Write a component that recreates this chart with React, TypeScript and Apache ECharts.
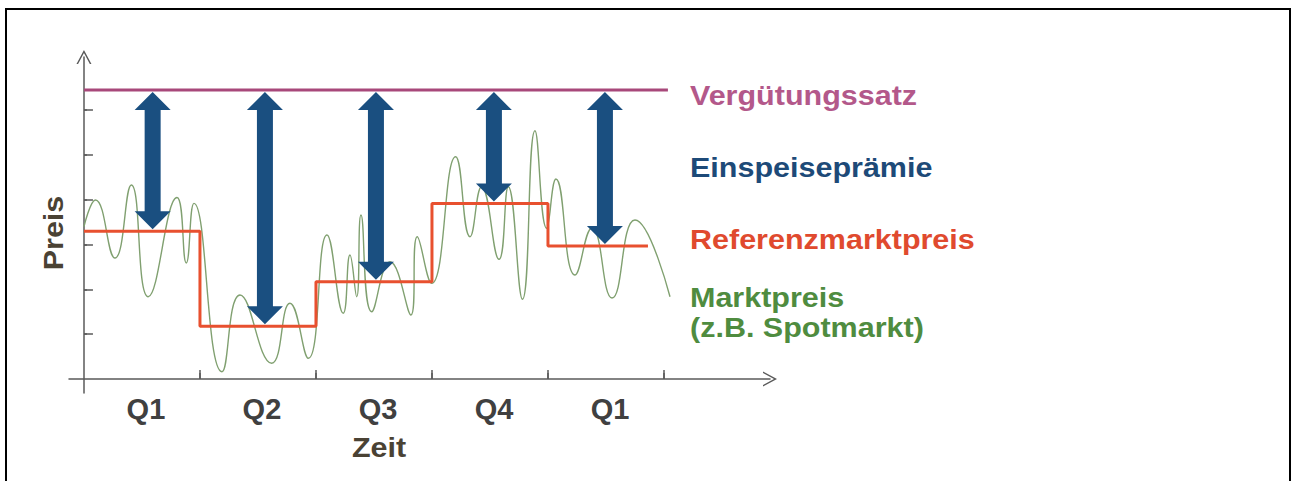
import React, { useEffect, useRef } from "react";
import * as echarts from "echarts";

// ---- data (x in quarters from the start, y in price units) ----
const quarterLabels = ["Q1", "Q2", "Q3", "Q4", "Q1"];
const quarterLabelPos = [0.5, 1.5, 2.5, 3.5, 4.5];
const xTickValues = [1, 2, 3, 4, 5];
const yTickValues = [1, 2, 3, 4, 5, 6];

const feedInRateX = [0, 5.034];
const feedInRate = 6.45;

const refStartX = [0, 1, 2, 3, 4];
const refPrices = [3.3, 1.18, 2.17, 3.92, 2.97];
const refEndX = 4.862;

const marketX = [
  0, 0.099, 0.267, 0.408, 0.554, 0.802, 0.882, 0.948, 1.19, 1.345, 1.618, 1.776,
  1.934, 2.095, 2.235, 2.293, 2.351, 2.388, 2.48, 2.638, 2.819, 2.873, 2.997, 3.204,
  3.328, 3.428, 3.578, 3.658, 3.78, 3.888, 3.989, 4.069, 4.233, 4.379, 4.552, 4.75, 5.052,
];
const marketY = [
  3.4, 3.996, 2.7, 4.33, 1.837, 4.05, 2.59, 3.92, 0.163, 1.875, 0.35, 1.69,
  0.462, 3.214, 1.467, 2.768, 1.837, 3.661, 1.502, 2.618, 1.429, 3.176, 2.136, 4.962,
  3.176, 4.292, 2.672, 4.292, 1.78, 5.542, 3.364, 4.464, 2.321, 3.371, 1.808, 3.549, 1.837,
];

const arrowX = [0.592, 1.56, 2.517, 3.534, 4.491];

const seriesNames = {
  rate: "Vergütungssatz",
  premium: "Einspeiseprämie",
  ref: "Referenzmarktpreis",
  market: "Marktpreis",
  marketNote: "(z.B. Spotmarkt)",
};
const axisNames = { x: "Zeit", y: "Preis" };

const COLORS = {
  rate: "#a8487a",
  rateText: "#b3588a",
  premium: "#1a4f80",
  premiumText: "#1d4a78",
  ref: "#e8502f",
  refText: "#e04a2e",
  market: "#80a070",
  marketText: "#4f8c3f",
  axis: "#5a5a5a",
  label: "#404040",
  name: "#4a4234",
};

const FONT = "'Liberation Sans', Arial, sans-serif";
const chevron = "path://M0,14 L7.5,0 L15,14 L13.4,14 L7.5,3 L1.6,14 Z";

export default function App() {
  const ref = useRef<HTMLDivElement>(null);

  useEffect(() => {
    if (!ref.current) return;
    const chart = echarts.init(ref.current, undefined, { renderer: "svg" });

    const refData: number[][] = refStartX.map((x, i) => [x, refPrices[i]]);
    refData.push([refEndX, refPrices[refPrices.length - 1]]);

    const arrowData = arrowX.map((x, i) => [x, feedInRate, refPrices[i]]);

    const textBase = {
      fontFamily: FONT,
      fontWeight: "bold",
      fontSize: 28,
    };

    const legendText = (text: string, y: number, fill: string) => ({
      type: "text",
      x: 690,
      y,
      scaleX: 1.09,
      style: { ...textBase, text, fill, align: "left", verticalAlign: "middle" },
      z: 10,
    });

    const option: any = {
      animation: false,
      backgroundColor: "#ffffff",
      grid: { left: 69, right: 522, top: 57, bottom: 88, containLabel: false },
      xAxis: [
        {
          type: "value",
          min: -0.129,
          max: 5.914,
          axisLine: {
            show: true,
            onZero: true,
            onZeroAxisIndex: 0,
            symbol: ["none", chevron],
            symbolSize: [15, 14],
            lineStyle: { color: COLORS.axis, width: 1.5 },
          },
          axisTick: {
            show: true,
            inside: true,
            length: 9,
            customValues: xTickValues,
            lineStyle: { color: COLORS.axis, width: 1.5 },
          },
          axisLabel: {
            show: true,
            customValues: quarterLabelPos,
            formatter: (v: number) => quarterLabels[Math.floor(v)] ?? "",
            margin: 1,
            padding: [0, 0, 0, 8],
            color: COLORS.label,
            fontFamily: FONT,
            fontWeight: "bold",
            fontSize: 29,
          },
          splitLine: { show: false },
        },
        {
          type: "value",
          min: -0.129,
          max: 5.914,
          axisLine: { show: false, onZero: true, onZeroAxisIndex: 0 },
          axisTick: {
            show: true,
            inside: false,
            length: 6,
            customValues: xTickValues,
            lineStyle: { color: COLORS.axis, width: 1.5 },
          },
          axisLabel: { show: false },
          splitLine: { show: false },
        },
      ],
      yAxis: [
        {
          type: "value",
          min: -0.3125,
          max: 7.188,
          axisLine: {
            show: true,
            onZero: true,
            onZeroAxisIndex: 0,
            symbol: ["none", chevron],
            symbolSize: [15, 14],
            lineStyle: { color: COLORS.axis, width: 1.5 },
          },
          axisTick: {
            show: true,
            inside: true,
            length: 9,
            customValues: yTickValues,
            lineStyle: { color: COLORS.axis, width: 1.5 },
          },
          axisLabel: { show: false },
          splitLine: { show: false },
        },
        {
          type: "value",
          min: -0.3125,
          max: 7.188,
          axisLine: { show: false, onZero: true, onZeroAxisIndex: 0 },
          axisTick: {
            show: true,
            inside: false,
            length: 3,
            customValues: yTickValues,
            lineStyle: { color: COLORS.axis, width: 1.5 },
          },
          axisLabel: { show: false },
          splitLine: { show: false },
        },
      ],
      series: [
        {
          name: seriesNames.market,
          type: "line",
          smooth: 0.5,
          showSymbol: false,
          silent: true,
          data: marketX.map((x, i) => [x, marketY[i]]),
          lineStyle: { color: COLORS.market, width: 1.4 },
          z: 2,
        },
        {
          name: seriesNames.ref,
          type: "line",
          step: "end",
          showSymbol: false,
          silent: true,
          data: refData,
          lineStyle: { color: COLORS.ref, width: 3 },
          z: 3,
        },
        {
          name: seriesNames.rate,
          type: "line",
          showSymbol: false,
          silent: true,
          data: feedInRateX.map((x) => [x, feedInRate]),
          lineStyle: { color: COLORS.rate, width: 3 },
          z: 3,
        },
        {
          name: seriesNames.premium,
          type: "custom",
          silent: true,
          z: 4,
          data: arrowData,
          renderItem: (_params: any, api: any) => {
            const x = api.value(0);
            const top = api.coord([x, api.value(1)]);
            const bot = api.coord([x, api.value(2)]);
            const cx = top[0];
            const yt = top[1] + 2;
            const yb = bot[1] - 2;
            const hw = 18;
            const sw = 8;
            const hh = 18;
            return {
              type: "polygon",
              shape: {
                points: [
                  [cx, yt],
                  [cx + hw, yt + hh],
                  [cx + sw, yt + hh],
                  [cx + sw, yb - hh],
                  [cx + hw, yb - hh],
                  [cx, yb],
                  [cx - hw, yb - hh],
                  [cx - sw, yb - hh],
                  [cx - sw, yt + hh],
                  [cx - hw, yt + hh],
                ],
              },
              style: { fill: COLORS.premium },
            };
          },
        },
      ],
      graphic: [
        {
          type: "rect",
          shape: { x: 6, y: 9, width: 1284, height: 500 },
          style: { fill: "none", stroke: "#000000", lineWidth: 2 },
          silent: true,
          z: 0,
        },
        legendText(seriesNames.rate, 95, COLORS.rateText),
        legendText(seriesNames.premium, 166.5, COLORS.premiumText),
        legendText(seriesNames.ref, 239, COLORS.refText),
        legendText(seriesNames.market, 296.5, COLORS.marketText),
        legendText(seriesNames.marketNote, 326.5, COLORS.marketText),
        {
          type: "text",
          x: 53,
          y: 233,
          rotation: Math.PI / 2,
          scaleX: 1.09,
          style: { ...textBase, text: axisNames.y, fill: COLORS.name, align: "center", verticalAlign: "middle" },
          z: 10,
        },
        {
          type: "text",
          x: 379,
          y: 447,
          scaleX: 1.09,
          style: { ...textBase, text: axisNames.x, fill: COLORS.name, align: "center", verticalAlign: "middle" },
          z: 10,
        },
      ],
    };

    chart.setOption(option);
    return () => chart.dispose();
  }, []);

  return (
    <div
      ref={ref}
      style={{ position: "fixed", left: 0, top: 0, width: 1292, height: 481, background: "#fff" }}
    />
  );
}
